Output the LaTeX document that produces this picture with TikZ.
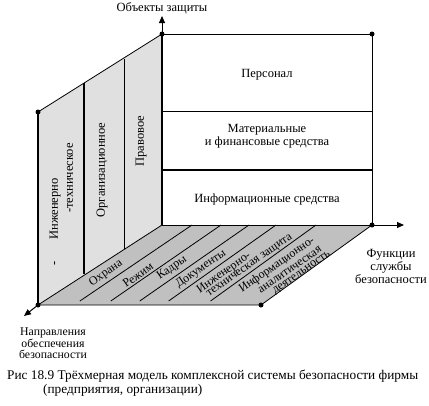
\documentclass[tikz,border=0pt]{standalone}
\usepackage{fontspec}
\setmainfont{Liberation Serif}
\usetikzlibrary{arrows.meta,calc}
\definecolor{wallgray}{RGB}{224,224,224}
\definecolor{floorgray}{RGB}{192,192,192}
\tikzset{
  thinln/.style={line width=0.8pt},
  thickln/.style={line width=2pt},
  dotmark/.style={circle,fill=black,inner sep=0pt,minimum size=5pt},
  axisarrow/.style={line width=1pt,-{Triangle[length=7pt,width=6pt]}},
  lbl/.style={font=\fontsize{12.5}{13}\selectfont, inner sep=0pt, align=center},
  smlbl/.style={font=\fontsize{11.8}{10.5}\selectfont, inner sep=0pt, align=center},
  flbl/.style={font=\fontsize{12}{10}\selectfont, inner sep=0pt, rotate=35},
  wlbl/.style={font=\fontsize{12.5}{13}\selectfont, inner sep=0pt, rotate=90},
  caplbl/.style={font=\fontsize{13.3}{14}\selectfont, inner sep=0pt, anchor=west},
}
\begin{document}
\begin{tikzpicture}[x=1pt,y=-1pt]
\useasboundingbox (0,0) rectangle (429,405);
% corners
\coordinate (T) at (162,34);
\coordinate (TR) at (372,34);
\coordinate (B) at (162,225);
\coordinate (BR) at (372,225);
\coordinate (LT) at (38,112);
\coordinate (LB) at (38,305);
\coordinate (FR) at (261,305);
\coordinate (M1L) at (162,111);
\coordinate (M1R) at (372,111);
\coordinate (M2L) at (162,170);
\coordinate (M2R) at (372,170);
% fills
\fill[wallgray] (LT) -- (T) -- (B) -- (LB) -- cycle;
\fill[floorgray] (LB) -- (B) -- (BR) -- (FR) -- cycle;
% floor strip lines
\foreach \f/\b [count=\i] in {74/192,105/221,134/249,163/276,205/316}{
  \coordinate (F\i) at (\f,305);
  \coordinate (K\i) at (\b,225);
  \draw[thinln] ($(F\i)!0.05!(K\i)$) -- (K\i);
}
% wall dividers
\coordinate (D1t) at (84,83);
\coordinate (D1b) at (84,274);
\coordinate (D2t) at (124,59);
\coordinate (D2b) at (124,249);
\draw[thickln] (D1t) -- (D1b);
\draw[thinln] (D2t) -- (D2b);
\draw[thinln] (LT) -- (T);
\draw[thinln] (LB) -- (B);
% box
\draw[thinln] (T) -- (TR) -- (BR);
\draw[thinln] (M1L) -- (M1R);
\draw[thickln] (M2L) -- (M2R);
\draw[thinln] (B) -- (BR);
% floor edges
\draw[thinln] (LB) -- (FR) -- (BR);
% thick edges
\draw[thickln] (LT) -- (LB);
\draw[thickln] (T) -- (B);
% axes
\coordinate (AU) at (162,16);
\coordinate (AR) at (404,225);
\coordinate (AL) at (24,316);
\draw[axisarrow] (T) -- (AU);
\draw[axisarrow] (BR) -- (AR);
\draw[axisarrow] (LB) -- (AL);
% dots
\foreach \p in {T,TR,LT,LB,BR,FR}{\node[dotmark] at (\p) {};}
% labels
\node[lbl] (objz) at (162,8) {Объекты защиты};
\node[lbl] (pers) at (267,75) {Персонал};
\node[lbl] (mat) at (267,136) {Материальные\\и финансовые средства};
\node[lbl] (inf) at (267,199) {Информационные средства};
\node[lbl] (func) at (391,266) {Функции\\службы\\безопасности};
\node[smlbl] (napr) at (53,343) {Направления\\обеспечения\\безопасности};
% wall labels
\node[wlbl] (w1a) at (55,209) {Инженерно};
\node[wlbl] (w1b) at (70,178) {-техническое};
\node[wlbl] (w1c) at (56,263) {-};
\node[wlbl] (w2) at (102,170) {Организационное};
\node[wlbl] (w3) at (141,141) {Правовое};
% floor labels
\node[flbl] (f1) at (106,273) {Охрана};
\node[flbl] (f2) at (138,275) {Режим};
\node[flbl] (f3) at (172,268) {Кадры};
\node[flbl] (f4) at (201,269) {Документы};
\node[flbl] (f5a) at (224,273) {Инженерно-};
\node[flbl] (f5b) at (250,266) {техническая защита};
\node[flbl] (f6a) at (277,265) {Информационно-};
\node[flbl] (f6b) at (290,270) {аналитическая};
\node[flbl] (f6c) at (302,273) {деятельность};
% caption
\node[caplbl] (cap1) at (7,376) {Рис 18.9 Трёхмерная модель комплексной системы безопасности фирмы};
\node[caplbl] (cap2) at (43,390) {(предприятия, организации)};
\end{tikzpicture}
\end{document}
